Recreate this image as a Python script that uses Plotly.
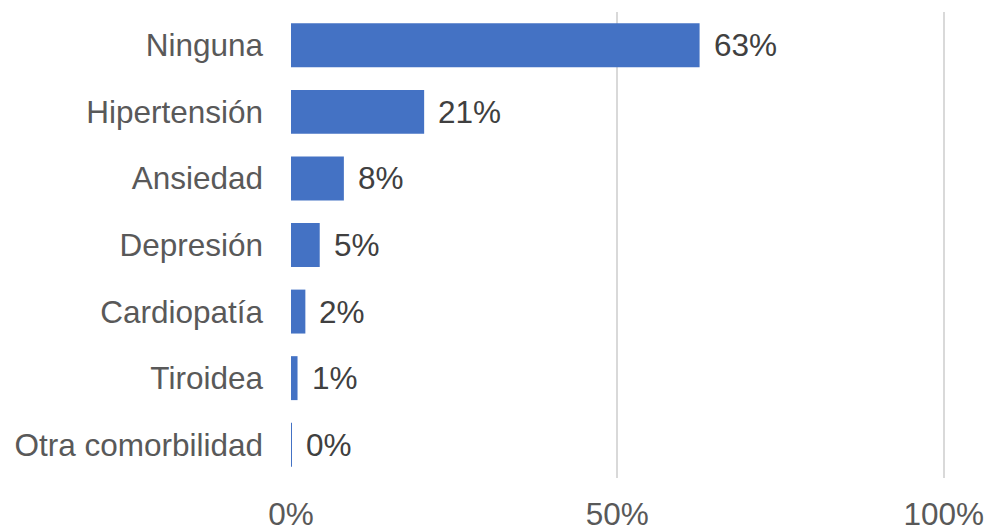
import plotly.graph_objects as go

categories = ["Ninguna", "Hipertensión", "Ansiedad", "Depresión", "Cardiopatía", "Tiroidea", "Otra comorbilidad"]
values = [62.6, 20.4, 8.1, 4.4, 2.2, 1.0, 0.15]
labels = ["63%", "21%", "8%", "5%", "2%", "1%", "0%"]
x_ticks = [0, 50, 100]
x_tick_text = ["0%", "50%", "100%"]

FONT = "Liberation Sans, Arial, sans-serif"
FS = 31.5

fig = go.Figure()
fig.add_trace(go.Bar(
    y=categories,
    x=values,
    orientation="h",
    marker=dict(color="#4472C4", line=dict(width=0)),
    hoverinfo="x+y",
))

for c, v, t in zip(categories, values, labels):
    fig.add_annotation(
        x=v, y=c, text=t, showarrow=False,
        xanchor="left", yanchor="middle", xshift=12,
        font=dict(family=FONT, size=FS, color="#404040"),
    )

fig.update_layout(
    width=990, height=531,
    margin=dict(l=291, r=45, t=12, b=53, autoexpand=False),
    paper_bgcolor="white", plot_bgcolor="white",
    showlegend=False,
    bargap=0.34,
    font=dict(family=FONT, size=FS, color="#595959"),
    xaxis=dict(
        range=[0, 100.2],
        tickvals=x_ticks, ticktext=x_tick_text,
        showgrid=True, gridcolor="#D9D9D9", gridwidth=1.5,
        zeroline=False, showline=False,
        ticks="", ticklabelstandoff=14,
        tickfont=dict(family=FONT, size=FS, color="#595959"),
        automargin=False,
        fixedrange=True,
    ),
    yaxis=dict(
        categoryorder="array", categoryarray=categories[::-1],
        showgrid=False, zeroline=False, showline=False,
        ticks="", ticklabelstandoff=27,
        tickfont=dict(family=FONT, size=FS, color="#595959"),
        automargin=False,
        fixedrange=True,
    ),
)

fig.write_html("out.html")
